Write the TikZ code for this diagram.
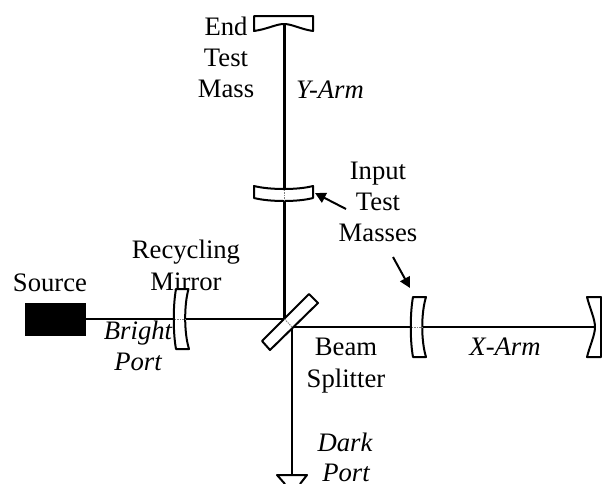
\documentclass[tikz,border=0pt]{standalone}
\usepackage{fontspec}
\setmainfont{Liberation Serif}
\usetikzlibrary{arrows.meta}
\tikzset{
  beam/.style={line width=2.1pt},
  mirror/.style={draw,line width=1.5pt,fill=white,line join=round},
  thru/.style={draw=gray,line width=0.7pt,dash pattern=on 1pt off 0.8pt},
  call/.style={line width=1.5pt,-{Triangle[length=8pt,width=8pt]}},
  lab/.style={inner sep=0pt,align=center,font=\fontsize{20}{23}\selectfont},
  ital/.style={lab,font=\fontsize{20}{23}\selectfont\itshape},
}
\begin{document}
\begin{tikzpicture}[x=0.75pt,y=-0.75pt]
\useasboundingbox (0,0) rectangle (602,483);
\begin{scope}
\clip (0,0) rectangle (602,483);
\coordinate (sy) at (284.5,319);
\coordinate (endy) at (284.5,24);
\coordinate (sx) at (292,327);
\coordinate (endx) at (595,327);
\coordinate (endd) at (292,476);
% beams
\node[draw,fill=black,minimum width=45pt,minimum height=24pt,inner sep=0pt,anchor=north west] (src) at (25,303) {};
\draw[beam] (endy) -- (sy);
\draw[beam] (src.east |- sy) -- (sy);
\draw[beam] (sx) -- (endx);
\draw[beam] (sx) -- (endd);
% end Y
\draw[mirror] (254,16) -- (313,16) -- (313,31) .. controls (300,29) and (292,24) .. (284,24) .. controls (276,24) and (268,29) .. (254,31) -- cycle;
% input Y
\draw[mirror] (254,186) .. controls (270,190) and (298,190) .. (313,186) -- (313,198) .. controls (298,202) and (270,202) .. (254,198) -- cycle;
\draw[thru] (284.5,190) -- (284.5,201);
% recycling
\draw[mirror] (176,289) -- (188.5,289) .. controls (184,305) and (184,333) .. (189,349) -- (176,349) .. controls (173,333) and (173,305) .. (176,289) -- cycle;
\draw[thru] (175,319) -- (185,319);
% beam splitter
\draw[mirror] (309,294) -- (318,303) -- (270,350) -- (262,341) -- cycle;
\draw[thru] (sy) -- (sx);
% input X
\draw[mirror] (413,297) -- (426,297) .. controls (421,313) and (421,341) .. (426,357) -- (413,357) .. controls (410,341) and (410,313) .. (413,297) -- cycle;
\draw[thru] (412,327) -- (422,327);
% end X
\draw[mirror] (587,297) -- (601,297) -- (601,357) -- (587,357) .. controls (590,345) and (595,335) .. (595,327) .. controls (595,319) and (590,309) .. (587,297) -- cycle;
% dark end
\draw[mirror] (285,484) -- (277,475) -- (307,475) -- (300,484);
\end{scope}
% callouts
\coordinate (ca) at (346,209);
\coordinate (cb) at (315,193);
\coordinate (cc) at (393,257);
\coordinate (cd) at (410,288);
\draw[call] (ca) -- (cb);
\draw[call] (cc) -- (cd);
% labels
\node[lab,anchor=base] (l1) at (226,35) {End};
\node[lab,anchor=base] (l2) at (226,66) {Test};
\node[lab,anchor=base] (l3) at (226,97) {Mass};
\node[ital,anchor=base] (l4) at (330,98) {Y-Arm};
\node[lab,anchor=base] (l5) at (378,179) {Input};
\node[lab,anchor=base] (l6) at (378,210) {Test};
\node[lab,anchor=base] (l7) at (378,241) {Masses};
\node[lab,anchor=base] (l8) at (50,291) {Source};
\node[lab,anchor=base] (l9) at (186,258) {Recycling};
\node[lab,anchor=base] (l10) at (186,290) {Mirror};
\node[ital,anchor=base] (l11) at (138,339) {Bright};
\node[ital,anchor=base] (l12) at (138,370) {Port};
\node[lab,anchor=base] (l13) at (346,355) {Beam};
\node[lab,anchor=base] (l14) at (346,387) {Splitter};
\node[ital,anchor=base] (l15) at (345,451) {Dark};
\node[ital,anchor=base] (l16) at (346,481) {Port};
\node[ital,anchor=base] (l17) at (505,355) {X-Arm};
\end{tikzpicture}
\end{document}
